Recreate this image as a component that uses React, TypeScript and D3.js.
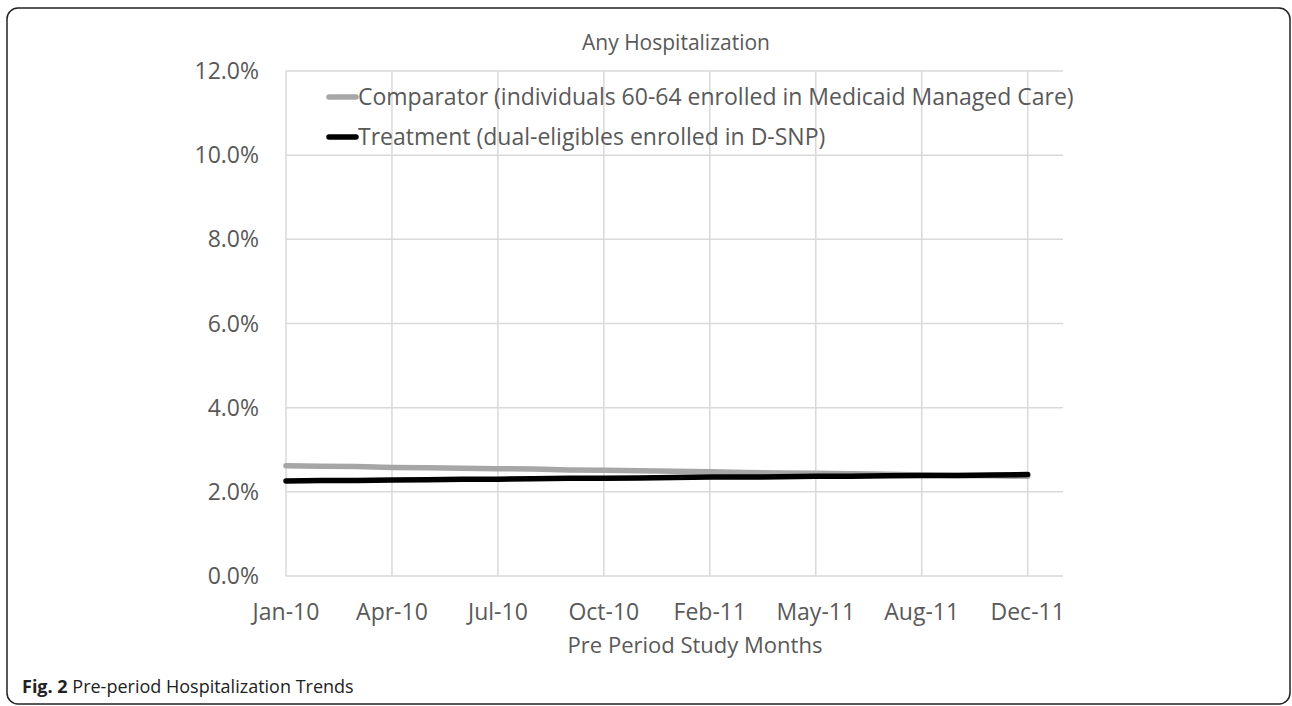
import * as React from "react";
import * as d3 from "d3";

const months = [
    "Jan-10", "Feb-10", "Mar-10", "Apr-10", "May-10", "Jun-10", "Jul-10", "Aug-10",
    "Sep-10", "Oct-10", "Nov-10", "Dec-10", "Feb-11", "Mar-11", "Apr-11", "May-11",
    "Jun-11", "Jul-11", "Aug-11", "Sep-11", "Nov-11", "Dec-11",
];
const tickLabels = ["Jan-10", "Apr-10", "Jul-10", "Oct-10", "Feb-11", "May-11", "Aug-11", "Dec-11"];
const yTicks = [0, 0.02, 0.04, 0.06, 0.08, 0.10, 0.12];

const comparator = [
    2.62, 2.61, 2.60, 2.58, 2.57, 2.56, 2.55, 2.54, 2.52, 2.51, 2.50,
    2.49, 2.48, 2.46, 2.45, 2.44, 2.43, 2.42, 2.40, 2.39, 2.38, 2.37,
];
const treatment = [
    2.26, 2.27, 2.27, 2.28, 2.29, 2.30, 2.30, 2.31, 2.32, 2.32, 2.33,
    2.34, 2.35, 2.35, 2.36, 2.37, 2.37, 2.38, 2.39, 2.39, 2.40, 2.41,
];

const series = [
    { name: "Comparator (individuals 60-64 enrolled in Medicaid Managed Care)", values: comparator, color: "#a6a6a6" },
    { name: "Treatment (dual-eligibles enrolled in D-SNP)", values: treatment, color: "#000000" },
];

const W = 1292;
const H = 706;
const font = "'Open Sans', sans-serif";

const App: React.FC = () => {
    const svgRef = React.useRef<SVGSVGElement | null>(null);

    React.useEffect(() => {
        if (!svgRef.current) return;
        const svg = d3.select(svgRef.current);
        svg.selectAll("*").remove();

        const left = 286, right = 1063, top = 71, bottom = 576;

        // one empty slot after the last month, like the source
        const x = d3.scaleLinear().domain([0, months.length]).range([left, right]);
        const y = d3.scaleLinear().domain([0, 0.12]).range([bottom, top]);

        svg.append("rect")
            .attr("x", 7).attr("y", 8)
            .attr("width", 1283).attr("height", 696)
            .attr("rx", 11)
            .attr("fill", "white")
            .attr("stroke", "#222")
            .attr("stroke-width", 1.5);

        // horizontal grid
        svg.append("g")
            .selectAll("line")
            .data(yTicks)
            .enter().append("line")
            .attr("x1", left).attr("x2", right)
            .attr("y1", d => y(d)).attr("y2", d => y(d))
            .attr("stroke", "#d9d9d9")
            .attr("stroke-width", 1.5);

        // vertical grid at labelled months
        const tickIdx = tickLabels.map(t => months.indexOf(t));
        svg.append("g")
            .selectAll("line")
            .data(tickIdx)
            .enter().append("line")
            .attr("x1", d => x(d)).attr("x2", d => x(d))
            .attr("y1", top).attr("y2", bottom)
            .attr("stroke", "#d9d9d9")
            .attr("stroke-width", 1.5);

        // y labels
        svg.append("g")
            .selectAll("text")
            .data(yTicks)
            .enter().append("text")
            .attr("x", 259)
            .attr("y", d => y(d))
            .attr("dy", "0.35em")
            .attr("text-anchor", "end")
            .attr("font-family", font)
            .attr("font-size", 23)
            .attr("fill", "#595959")
            .text(d => d3.format(".1%")(d));

        // x labels
        svg.append("g")
            .selectAll("text")
            .data(tickIdx)
            .enter().append("text")
            .attr("x", d => x(d))
            .attr("y", 620)
            .attr("text-anchor", "middle")
            .attr("font-family", font)
            .attr("font-size", 23)
            .attr("fill", "#595959")
            .text(d => months[d]);

        svg.append("text")
            .attr("x", 695).attr("y", 653)
            .attr("text-anchor", "middle")
            .attr("font-family", font)
            .attr("font-size", 22)
            .attr("fill", "#595959")
            .text("Pre Period Study Months");

        svg.append("text")
            .attr("x", 676).attr("y", 50)
            .attr("text-anchor", "middle")
            .attr("font-family", font)
            .attr("font-size", 21)
            .attr("fill", "#595959")
            .text("Any Hospitalization");

        const line = d3.line<number>()
            .x((_, i) => x(i))
            .y(d => y(d / 100));

        series.forEach(s => {
            svg.append("path")
                .datum(s.values)
                .attr("d", line)
                .attr("fill", "none")
                .attr("stroke", s.color)
                .attr("stroke-width", 5.5)
                .attr("stroke-linecap", "round");
        });

        // legend
        const lg = svg.append("g");
        series.forEach((s, i) => {
            const ly = 97 + i * 40;
            lg.append("line")
                .attr("x1", 329).attr("x2", 356)
                .attr("y1", ly).attr("y2", ly)
                .attr("stroke", s.color)
                .attr("stroke-width", 5.5)
                .attr("stroke-linecap", "round");
            lg.append("text")
                .attr("x", 358).attr("y", ly)
                .attr("dy", "0.35em")
                .attr("font-family", font)
                .attr("font-size", 23)
                .attr("fill", "#595959")
                .text(s.name);
        });

        // caption
        const cap = svg.append("text")
            .attr("x", 22).attr("y", 693)
            .attr("font-family", font)
            .attr("font-size", 18)
            .attr("fill", "#222");
        cap.append("tspan").attr("font-weight", "bold").text("Fig. 2");
        cap.append("tspan").text(" Pre-period Hospitalization Trends");
    }, []);

    return (
        <svg
            ref={svgRef}
            width={W}
            height={H}
            style={{ position: "absolute", left: 0, top: 0, background: "white" }}
        />
    );
};

export default App;
